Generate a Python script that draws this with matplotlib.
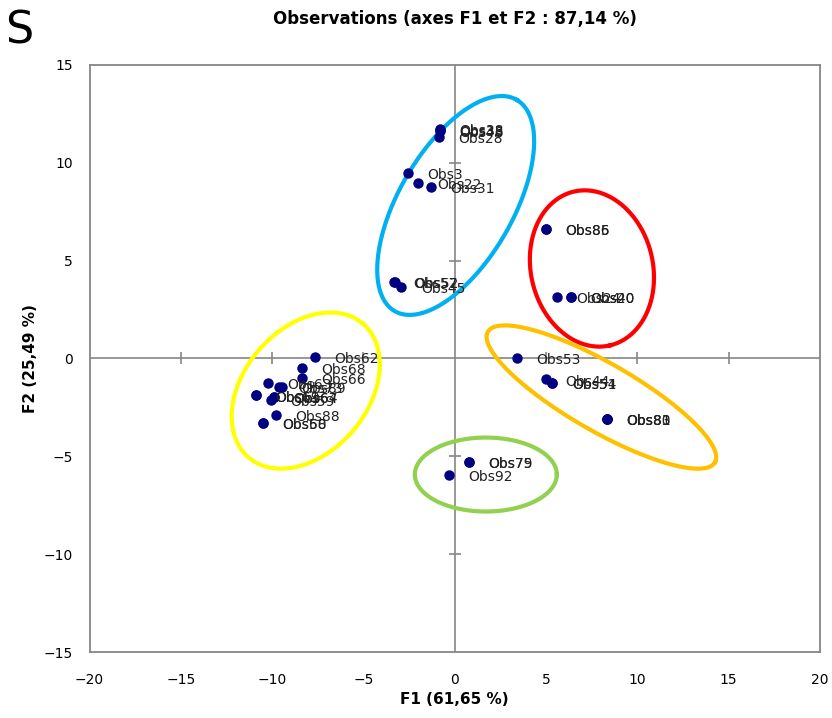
import matplotlib
matplotlib.use('Agg')
import matplotlib.pyplot as plt
import numpy as np

# ---- data (F1, F2 coordinates of the observations) ----
obs_labels = ["Obs38", "Obs33", "Obs48", "Obs28", "Obs3", "Obs22", "Obs31",
              "Obs57", "Obs52", "Obs45",
              "Obs85", "Obs86", "Obs24", "Obs20", "Obs40",
              "Obs53", "Obs44", "Obs54", "Obs51", "Obs80", "Obs81", "Obs83",
              "Obs75", "Obs79", "Obs92",
              "Obs62", "Obs68", "Obs66", "Obs63", "Obs73", "Obs89", "Obs61",
              "Obs69", "Obs59", "Obs64", "Obs67", "Obs88", "Obs58", "Obs60"]
f1 = [-0.82, -0.80, -0.82, -0.85, -2.56, -2.01, -1.32,
      -3.33, -3.30, -2.92,
      4.99, 4.99, 5.61, 6.34, 6.34,
      3.42, 4.97, 5.35, 5.35, 8.31, 8.31, 8.31,
      0.79, 0.79, -0.31,
      -7.67, -8.35, -8.35, -10.23, -9.62, -9.45, -10.90,
      -10.90, -10.05, -9.90, -9.90, -9.80, -10.50, -10.50]
f2 = [11.75, 11.68, 11.62, 11.30, 9.49, 8.98, 8.75,
      3.93, 3.90, 3.66,
      6.63, 6.63, 3.13, 3.13, 3.13,
      0.02, -1.07, -1.24, -1.24, -3.08, -3.08, -3.08,
      -5.30, -5.30, -5.93,
      0.10, -0.48, -0.99, -1.23, -1.47, -1.47, -1.89,
      -1.89, -2.11, -1.98, -1.98, -2.88, -3.30, -3.30]

x_ticks = [-20, -15, -10, -5, 0, 5, 10, 15, 20]
y_ticks = [-15, -10, -5, 0, 5, 10, 15]

# group ellipses: centre (data), semi-axes (pixels), screen angle, colour
groups = [
    ((0.05, 7.82), 122, 57, 60, "#00B0F0"),
    ((7.51, 4.60), 79, 61, -76.7, "#FF0000"),
    ((-8.16, -1.64), 88, 62, 49.5, "#FFFF00"),
    ((8.03, -1.97), 131, 34, -29.9, "#FFC000"),
    ((1.70, -5.93), 71, 37, 0, "#92D050"),
]

GRAY = "#868686"
NAVY = "#000080"

fig = plt.figure(figsize=(8.32, 7.18), dpi=100)
fig.patch.set_facecolor("white")
ax = fig.add_axes([0.1076, 0.0919, 0.878, 0.8176])
ax.set_xlim(-20, 20)
ax.set_ylim(-15, 15)
ax.set_xticks(x_ticks)
ax.set_yticks(y_ticks)
ax.tick_params(length=0, labelsize=10, colors="black")
ax.tick_params(axis="x", pad=15)
ax.tick_params(axis="y", pad=12)
for sp in ax.spines.values():
    sp.set_color(GRAY)
    sp.set_linewidth(1.3)

# crosshair through the origin with its own tick marks
ax.axhline(0, color=GRAY, lw=1.2, zorder=1)
ax.axvline(0, color=GRAY, lw=1.2, zorder=1)
inner_x = [t for t in x_ticks if abs(t) not in (0, 20)]
inner_y = [t for t in y_ticks if abs(t) not in (0, 15)]
ax.plot(inner_x, [0] * len(inner_x), ls="none", marker="|", ms=8, mew=1.2,
        color=GRAY, zorder=1)
ax.plot([0] * len(inner_y), inner_y, ls="none", marker="_", ms=8, mew=1.2,
        color=GRAY, zorder=1)

# ellipses drawn in screen space, converted to data units
sx = ax.bbox.width / 40.0
sy = ax.bbox.height / 30.0
t = np.linspace(0, 2 * np.pi, 300)
for (cx, cy), a, b, ang, col in groups:
    th = np.radians(ang)
    ex = cx + (a * np.cos(th) * np.cos(t) - b * np.sin(th) * np.sin(t)) / sx
    ey = cy + (a * np.sin(th) * np.cos(t) + b * np.cos(th) * np.sin(t)) / sy
    ax.plot(ex, ey, color=col, lw=3, zorder=2)

ax.plot(f1, f2, ls="none", marker="o", ms=6.5, color=NAVY, zorder=3)
for lab, x, y in zip(obs_labels, f1, f2):
    ax.annotate(lab, (x, y), xytext=(14, -1.5), textcoords="offset points",
                ha="left", va="center", fontsize=10, color="#222222", zorder=4)

ax.set_xlabel("F1 (61,65 %)", fontsize=11, fontweight="bold", labelpad=4)
ax.set_ylabel("F2 (25,49 %)", fontsize=11, fontweight="bold", labelpad=4)
fig.text(0.547, 0.974, "Observations (axes F1 et F2 : 87,14 %)", ha="center",
         va="center", fontsize=12, fontweight="bold")
fig.text(0.006, 0.957, "S", ha="left", va="center", fontsize=32)

fig.savefig("out.png", dpi=100, facecolor="white")
